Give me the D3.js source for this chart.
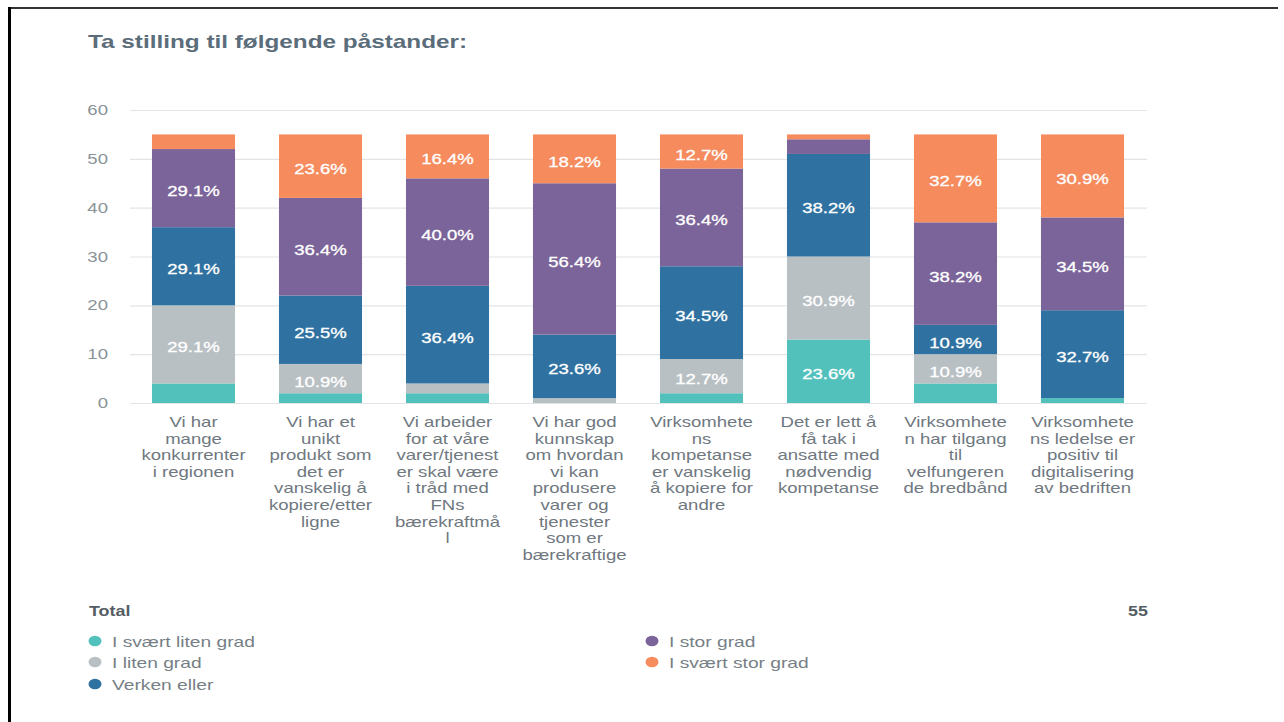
<!DOCTYPE html>
<html>
<head>
<meta charset="utf-8">
<script src="https://cdn.jsdelivr.net/npm/d3@7"></script>
<style>
  body { margin: 0; background: #fff; }
  svg { display: block; font-family: "Liberation Sans", Arial, sans-serif; }
</style>
</head>
<body>
<div id="chart"></div>
<script>
// Categories (pre-wrapped the way they appear under the bars)
const categories = [
  ['Vi har', 'mange', 'konkurrenter', 'i regionen'],
  ['Vi har et', 'unikt', 'produkt som', 'det er', 'vanskelig å', 'kopiere/etter', 'ligne'],
  ['Vi arbeider', 'for at våre', 'varer/tjenest', 'er skal være', 'i tråd med', 'FNs', 'bærekraftmå', 'l'],
  ['Vi har god', 'kunnskap', 'om hvordan', 'vi kan', 'produsere', 'varer og', 'tjenester', 'som er', 'bærekraftige'],
  ['Virksomhete', 'ns', 'kompetanse', 'er vanskelig', 'å kopiere for', 'andre'],
  ['Det er lett å', 'få tak i', 'ansatte med', 'nødvendig', 'kompetanse'],
  ['Virksomhete', 'n har tilgang', 'til', 'velfungeren', 'de bredbånd'],
  ['Virksomhete', 'ns ledelse er', 'positiv til', 'digitalisering', 'av bedriften']
];

const seriesNames = ['I svært liten grad', 'I liten grad', 'Verken eller', 'I stor grad', 'I svært stor grad'];
const seriesColors = ['#52c1bc', '#b9c0c4', '#2f72a1', '#7b6499', '#f68b5e'];

// counts of respondents per category (n = 55)
const sværtLiten = [4, 2, 2, 0, 2, 13, 4, 1];
const liten      = [16, 6, 2, 1, 7, 17, 6, 0];
const verken     = [16, 14, 20, 13, 19, 21, 6, 18];
const stor       = [16, 20, 22, 31, 20, 3, 21, 19];
const sværtStor  = [3, 13, 9, 10, 7, 1, 18, 17];

const yTicks = [0, 10, 20, 30, 40, 50, 60];
const total = 55;

const w = 1284;
const h = 722;
const stretch = 1.28; // the reference screenshot is widened horizontally

function placeText(sel, x, y) {
  return sel.attr('transform', 'translate(' + x + ',' + y + ') scale(' + stretch + ',1)');
}

const svg = d3.select('#chart')
  .append('svg')
  .attr('width', w)
  .attr('height', h);

// frame lines of the screenshot
svg.append('rect').attr('x', 8).attr('y', 7).attr('width', 1270).attr('height', 2).attr('fill', '#333');
svg.append('rect').attr('x', 8).attr('y', 7).attr('width', 3).attr('height', h).attr('fill', '#000');

svg.append('text')
  .call(placeText, 88, 48)
  .attr('font-size', 19)
  .attr('font-weight', 'bold')
  .attr('fill', '#5b6d7a')
  .text('Ta stilling til følgende påstander:');

const xscale = d3.scaleBand()
  .domain(d3.range(categories.length))
  .range([130, 1146])
  .paddingInner(0.346)
  .paddingOuter(0.173);

const yscale = d3.scaleLinear()
  .domain([0, 60])
  .range([403, 110]);

// gridlines
const yAxis = d3.axisLeft(yscale)
  .tickValues(yTicks)
  .tickSize(-(1147 - 130))
  .tickFormat('');

const gy = svg.append('g')
  .attr('transform', 'translate(130, 0)')
  .call(yAxis);
gy.select('.domain').remove();
gy.selectAll('.tick line').attr('stroke', '#e2e4e6').attr('stroke-width', 1.2);

// y tick labels
svg.selectAll('text.ytick')
  .data(yTicks)
  .enter()
  .append('text')
  .attr('class', 'ytick')
  .each(function (t) { placeText(d3.select(this), 108, yscale(t) + 5); })
  .attr('text-anchor', 'end')
  .attr('font-size', 14.5)
  .attr('fill', '#8a9398')
  .text((t) => t);

// stack data
const rows = categories.map((c, i) => ({
  i: i,
  s0: sværtLiten[i], s1: liten[i], s2: verken[i], s3: stor[i], s4: sværtStor[i]
}));
const stack = d3.stack().keys(['s0', 's1', 's2', 's3', 's4']);
const layers = stack(rows);

const layerG = svg.selectAll('g.layer')
  .data(layers)
  .enter()
  .append('g')
  .attr('class', 'layer')
  .attr('fill', (d, k) => seriesColors[k]);

layerG.selectAll('rect')
  .data((d) => d)
  .enter()
  .append('rect')
  .attr('x', (d) => xscale(d.data.i))
  .attr('y', (d) => yscale(d[1]))
  .attr('width', xscale.bandwidth())
  .attr('height', (d) => yscale(d[0]) - yscale(d[1]));

// percentage labels
layerG.selectAll('text')
  .data((d) => d.filter((p) => p[1] - p[0] >= 5))
  .enter()
  .append('text')
  .each(function (d) {
    placeText(d3.select(this),
      xscale(d.data.i) + xscale.bandwidth() / 2,
      (yscale(d[0]) + yscale(d[1])) / 2 + 8);
  })
  .attr('text-anchor', 'middle')
  .attr('font-size', 14.5)
  .attr('fill', '#fff')
  .attr('stroke', '#fff')
  .attr('stroke-width', 0.3)
  .text((d) => ((d[1] - d[0]) / total * 100).toFixed(1) + '%');

// category labels
const catG = svg.selectAll('g.cat')
  .data(categories)
  .enter()
  .append('g')
  .attr('class', 'cat')
  .attr('transform', (d, i) => 'translate(' + (xscale(i) + xscale.bandwidth() / 2) + ', 427)');

catG.selectAll('text')
  .data((d) => d)
  .enter()
  .append('text')
  .each(function (d, j) { placeText(d3.select(this), 0, j * 16.6); })
  .attr('text-anchor', 'middle')
  .attr('font-size', 14.5)
  .attr('fill', '#6f787f')
  .text((d) => d);

// legend
svg.append('text')
  .call(placeText, 89, 616)
  .attr('font-size', 14).attr('font-weight', 'bold').attr('fill', '#555d63')
  .text('Total');
svg.append('text')
  .call(placeText, 1148, 616)
  .attr('text-anchor', 'end')
  .attr('font-size', 14).attr('font-weight', 'bold').attr('fill', '#555d63')
  .text(total);

const legendPos = [[95, 641], [95, 662], [95, 684], [652, 641], [652, 662]];
const legend = svg.selectAll('g.legend')
  .data(seriesNames)
  .enter()
  .append('g')
  .attr('class', 'legend')
  .attr('transform', (d, k) => 'translate(' + legendPos[k][0] + ',' + legendPos[k][1] + ')');

legend.append('ellipse')
  .attr('rx', 6.5)
  .attr('ry', 5.3)
  .attr('fill', (d, k) => seriesColors[k]);

legend.append('text')
  .call(placeText, 17, 5.5)
  .attr('font-size', 15)
  .attr('fill', '#767f86')
  .text((d) => d);
</script>
</body>
</html>
